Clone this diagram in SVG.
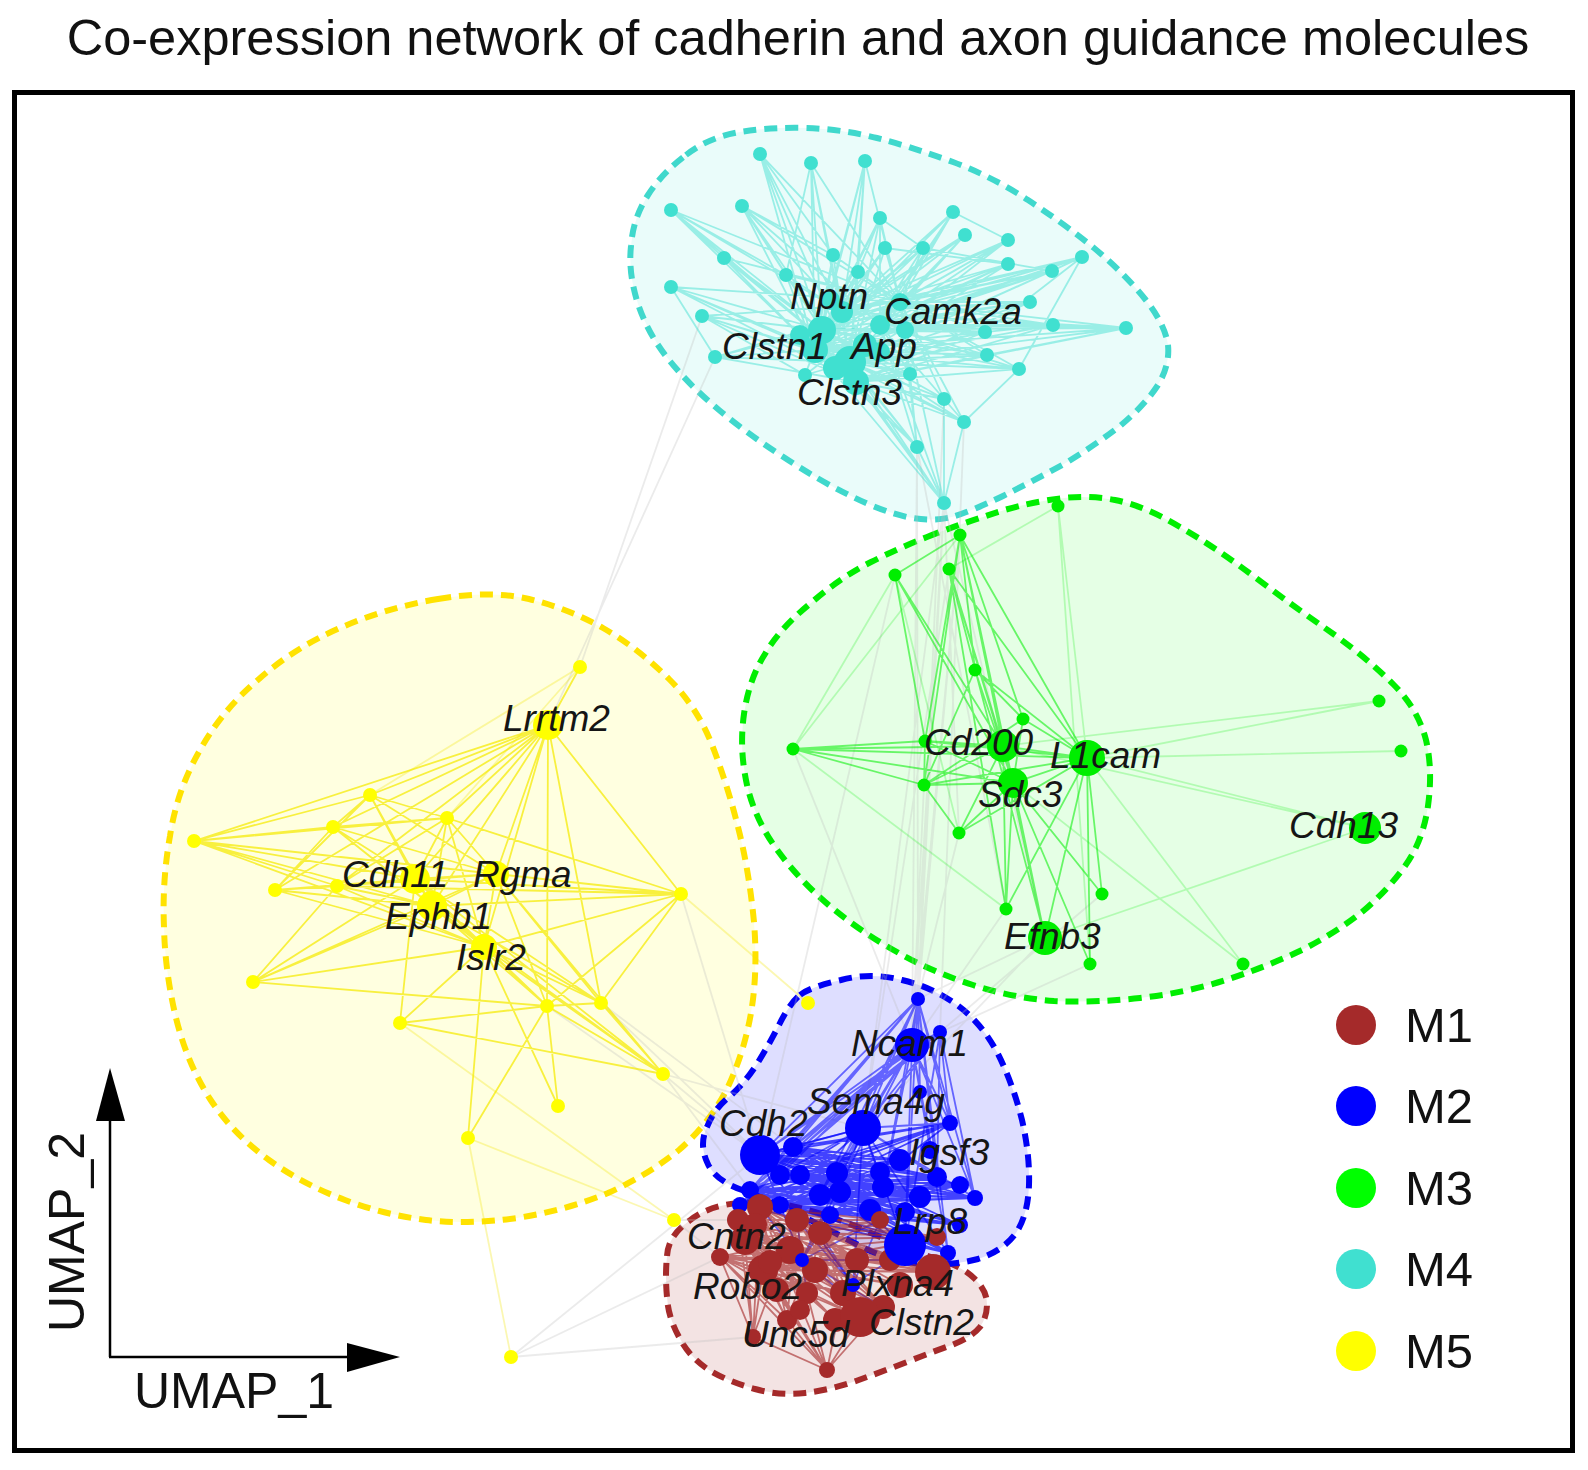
<svg xmlns="http://www.w3.org/2000/svg" width="1588" height="1470" viewBox="0 0 1588 1470">
<style>
.t{font-family:"Liberation Sans",Arial,sans-serif;fill:#111}
.lab{font-family:"Liberation Sans",Arial,sans-serif;font-style:italic;font-size:37px;fill:#151515}
.h{stroke-width:6;stroke-dasharray:13 8}
.e{fill:none;stroke-width:1.8;stroke-linecap:round}
.m1{fill:#A52A2A}.m2{fill:#0000FF}.m3{fill:#00EE00}.m4{fill:#40E0D0}.m5{fill:#FFFF00}
</style>
<rect width="1588" height="1470" fill="#fff"/>
<text class="t" x="798" y="55" font-size="50.5" text-anchor="middle">Co-expression network of cadherin and axon guidance molecules</text>
<rect x="14.5" y="92.5" width="1558" height="1358" fill="none" stroke="#000" stroke-width="5"/>

<g id="modules">
<path id="hull-M5" class="h" fill="#FFFF00" fill-opacity="0.12" stroke="#FFE200" d="M438 599 Q491 590 529 599 Q567 608 603 628 Q638 648 669 679 Q699 709 714 750 Q729 790 739 831 Q749 871 754 922 Q758 972 751 1013 Q744 1053 727 1089 Q709 1124 679 1150 Q648 1175 608 1193 Q567 1210 517 1218 Q466 1225 426 1220 Q385 1215 345 1200 Q304 1185 269 1160 Q233 1134 210 1099 Q187 1063 176 1018 Q165 972 164 927 Q162 881 170 836 Q177 790 200 750 Q223 709 259 679 Q294 648 340 628 Q385 608 438 599 Z"/>
<path id="hull-M4" class="h" fill="#40E0D0" fill-opacity="0.11" stroke="#40D8CC" d="M686 155 Q709 137 740 132 Q770 127 806 128 Q841 129 877 138 Q912 147 953 162 Q993 177 1028 200 Q1063 223 1094 248 Q1124 273 1145 299 Q1165 324 1168 345 Q1170 365 1158 385 Q1145 405 1120 426 Q1094 446 1064 464 Q1033 481 1003 496 Q972 511 952 517 Q932 522 907 517 Q881 511 851 496 Q820 481 785 458 Q749 435 719 410 Q689 385 669 360 Q648 334 638 304 Q628 273 631 246 Q633 218 648 195 Q663 172 686 155 Z"/>
<path id="hull-M3" class="h" fill="#00FF00" fill-opacity="0.1" stroke="#00EE00" d="M927 537 Q952 527 983 517 Q1013 506 1049 500 Q1084 494 1115 500 Q1145 506 1180 527 Q1215 547 1256 578 Q1296 608 1332 633 Q1367 658 1393 684 Q1418 709 1426 740 Q1433 770 1428 806 Q1423 841 1405 866 Q1387 891 1362 912 Q1337 932 1302 950 Q1266 967 1226 980 Q1185 993 1140 998 Q1094 1003 1054 1001 Q1013 998 973 985 Q932 972 897 952 Q861 932 831 907 Q800 881 778 851 Q755 820 747 785 Q739 749 744 714 Q749 679 765 654 Q780 628 811 603 Q841 577 871 562 Q901 547 927 537 Z"/>
<path id="hull-M1" class="h" fill="#A52A2A" fill-opacity="0.13" stroke="#A52A2A" d="M667 1256 Q668 1236 689 1221 Q709 1205 740 1203 Q770 1200 800 1208 Q830 1215 871 1233 Q912 1251 937 1259 Q962 1266 975 1279 Q987 1291 987 1304 Q987 1317 980 1327 Q972 1337 952 1345 Q932 1352 907 1362 Q881 1372 856 1381 Q830 1390 805 1393 Q780 1396 755 1389 Q729 1382 709 1370 Q689 1357 679 1337 Q668 1317 667 1297 Q665 1276 667 1256 Z"/>
<path id="hull-M2" class="h" fill="#0000FF" fill-opacity="0.13" stroke="#0000F5" d="M800 995 Q810 987 841 980 Q871 972 902 980 Q932 987 957 1005 Q982 1023 998 1054 Q1013 1084 1022 1120 Q1030 1155 1029 1185 Q1028 1215 1016 1233 Q1003 1251 978 1259 Q952 1266 922 1264 Q891 1261 866 1249 Q841 1236 806 1218 Q770 1200 742 1190 Q714 1180 707 1162 Q699 1144 707 1127 Q714 1109 729 1097 Q744 1084 757 1064 Q770 1043 780 1023 Q790 1003 800 995 Z"/>
</g>

<g id="connectors">
<path id="edges-between" class="e" stroke="#BDBDBD" stroke-opacity="0.3" stroke-width="1.3" d="M944 503L912 1045M944 503L918 999M944 503L863 1128M917 447L918 999M917 447L912 1045M964 422L940 1032M944 399L918 999M960 535L918 999M960 535L912 1045M895 575L760 1155M949 569L863 1128M663 1074L760 1155M663 1074L863 1128M663 1074L750 1190M601 1003L760 1155M601 1003L793 1147M547 1006L760 1155M681 894L760 1155M674 1220L738 1220M674 1220L720 1257M511 1357L720 1257M511 1357L753 1337M511 1357L760 1155M548 725L715 357M580 667L702 316M1006 909L912 1045M1045 938L918 999M1090 964L912 1045M1045 938L863 1128M959 833L918 999M924 785L912 1045M793 749L912 1045M1102 894L940 1032M944 503L1045 938M917 447L1006 909M944 503L959 833"/>
<path id="edges-M4" class="e" stroke="#40E0D0" stroke-opacity="0.48" d="M822 330L760 154M822 330L811 163M822 330L865 161M822 330L671 210M822 330L742 206M822 330L880 218M822 330L953 212M822 330L965 235M822 330L1008 240M822 330L1082 257M822 330L1008 264M822 330L1052 271M822 330L1030 302M822 330L1053 325M822 330L1126 328M822 330L724 258M822 330L671 287M822 330L702 316M822 330L715 357M822 330L833 255M822 330L885 248M822 330L923 248M822 330L786 275M822 330L858 272M822 330L985 332M822 330L987 355M822 330L1019 369M822 330L805 375M822 330L910 374M822 330L944 399M822 330L964 422M822 330L917 447M822 330L944 503
M850 362L760 154M850 362L811 163M850 362L865 161M850 362L671 210M850 362L742 206M850 362L880 218M850 362L953 212M850 362L965 235M850 362L1008 240M850 362L1082 257M850 362L1008 264M850 362L1052 271M850 362L1030 302M850 362L1053 325M850 362L1126 328M850 362L724 258M850 362L671 287M850 362L702 316M850 362L715 357M850 362L833 255M850 362L885 248M850 362L923 248M850 362L786 275M850 362L858 272M850 362L985 332M850 362L987 355M850 362L1019 369M850 362L805 375M850 362L910 374M850 362L944 399M850 362L964 422M850 362L917 447M850 362L944 503
M900 302L760 154M900 302L811 163M900 302L865 161M900 302L671 210M900 302L742 206M900 302L880 218M900 302L953 212M900 302L965 235M900 302L1008 240M900 302L1082 257M900 302L1008 264M900 302L1052 271M900 302L1030 302M900 302L1053 325M900 302L1126 328M900 302L724 258M900 302L671 287M900 302L702 316M900 302L715 357M900 302L833 255M900 302L885 248M900 302L923 248M900 302L786 275M900 302L858 272M900 302L985 332M900 302L987 355M900 302L1019 369M900 302L805 375M900 302L910 374M900 302L944 399M900 302L964 422M900 302L917 447M900 302L944 503
M815 350L760 154M815 350L811 163M815 350L865 161M815 350L671 210M815 350L742 206M815 350L880 218M815 350L953 212M815 350L965 235M815 350L1008 240M815 350L1082 257M815 350L1008 264M815 350L1052 271M815 350L1030 302M815 350L1053 325M815 350L1126 328M815 350L724 258M815 350L671 287M815 350L702 316M815 350L715 357M815 350L833 255M815 350L885 248M815 350L923 248M815 350L786 275M815 350L858 272M815 350L985 332M815 350L987 355M815 350L1019 369M815 350L805 375M815 350L910 374M815 350L944 399M815 350L964 422M815 350L917 447M815 350L944 503
M842 312L760 154M842 312L811 163M842 312L865 161M842 312L671 210M842 312L742 206M842 312L880 218M842 312L953 212M842 312L965 235M842 312L1008 240M842 312L1082 257M842 312L1008 264M842 312L1052 271M842 312L1030 302M842 312L1053 325M842 312L1126 328M842 312L833 255M842 312L885 248M842 312L923 248M842 312L786 275M842 312L858 272
M880 325L880 218M880 325L953 212M880 325L965 235M880 325L1008 240M880 325L1082 257M880 325L1008 264M880 325L1052 271M880 325L1030 302M880 325L1053 325M880 325L1126 328M880 325L985 332M880 325L987 355M880 325L1019 369M880 325L910 374M880 325L944 399M880 325L964 422M880 325L917 447M880 325L944 503M880 325L742 206
M856 382L985 332M856 382L987 355M856 382L1019 369M856 382L910 374M856 382L944 399M856 382L964 422M856 382L917 447M856 382L944 503M856 382L1053 325M856 382L1126 328M856 382L1030 302M856 382L715 357M856 382L702 316M856 382L671 287
M671 210L724 258M742 206L833 255M760 154L833 255M811 163L786 275M865 161L858 272M953 212L1008 240M1082 257L1052 271M1126 328L1053 325M1126 328L987 355M671 287L715 357M702 316L805 375M910 374L917 447M964 422L944 503M944 399L944 503M917 447L944 503M1019 369L964 422M880 218L923 248M885 248L1008 264M923 248L1052 271M742 206L786 275M671 210L786 275M1082 257L985 332M1082 257L1019 369"/>
<path id="edges-M3-weak" class="e" stroke="#00EE00" stroke-opacity="0.22" d="M1058 506L1090 964M1058 506L1087 758M1379 701L1087 758M1401 751L1087 758M1365 828L1087 758M1365 828L1045 938M1365 828L1003 746M1243 964L1087 758M1243 964L1013 783M793 749L960 535M793 749L1006 909M895 575L793 749M1058 506L949 569M895 575L959 833M1379 701L1003 746"/>
<path id="edges-M3" class="e" stroke="#00EE00" stroke-opacity="0.55" d="M960 535L1003 746M960 535L1087 758M960 535L1013 783M960 535L924 785M960 535L925 741M960 535L895 575M960 535L975 670M960 535L1023 719M949 569L1087 758M949 569L1013 783M949 569L1003 746M949 569L1045 938M949 569L1006 909M895 575L1013 783M895 575L1003 746M895 575L925 741M975 670L1087 758M975 670L1013 783M975 670L924 785M975 670L1023 719M1023 719L1087 758M1023 719L1013 783M1023 719L924 785M793 749L1003 746M793 749L1013 783M793 749L924 785M793 749L925 741M793 749L1087 758M925 741L1003 746M925 741L1087 758M925 741L1013 783M925 741L924 785M924 785L1003 746M924 785L1087 758M924 785L1013 783M924 785L959 833M959 833L1013 783M959 833L1003 746M959 833L1087 758M1003 746L1087 758M1003 746L1013 783M1087 758L1013 783M1006 909L1013 783M1006 909L1087 758M1006 909L1003 746M1045 938L1013 783M1045 938L1087 758M1045 938L1003 746M1102 894L1087 758M1102 894L1013 783M1090 964L1087 758M1090 964L1013 783"/>
<path id="edges-M5-weak" class="e" stroke="#F2E600" stroke-opacity="0.3" d="M511 1357L468 1138M580 667L447 818M580 667L370 795M808 1003L681 894M400 1023L674 1220M468 1138L674 1220"/>
<path id="edges-M5" class="e" stroke="#F5EA00" stroke-opacity="0.72" d="M548 725L580 667M548 725L370 795M548 725L333 827M548 725L447 818M548 725L194 841M548 725L275 890M548 725L337 886M548 725L415 879M548 725L496 874M548 725L432 906M548 725L484 947M548 725L681 894M548 725L547 1006M548 725L601 1003M194 841L333 827M194 841L370 795M194 841L447 818M194 841L415 879M194 841L496 874M194 841L432 906M194 841L484 947M194 841L337 886M194 841L681 894M370 795L333 827M370 795L447 818M370 795L415 879M370 795L496 874M370 795L432 906M370 795L275 890M333 827L415 879M333 827L432 906M333 827L496 874M333 827L484 947M333 827L447 818M333 827L275 890M447 818L415 879M447 818L432 906M447 818L496 874M447 818L484 947M447 818L337 886M415 879L496 874M415 879L432 906M415 879L484 947M496 874L432 906M496 874L484 947M432 906L484 947M681 894L415 879M681 894L496 874M681 894L432 906M681 894L484 947M681 894L547 1006M681 894L601 1003M681 894L447 818M681 894L337 886M547 1006L415 879M547 1006L496 874M547 1006L432 906M547 1006L484 947M547 1006L601 1003M547 1006L400 1023M547 1006L663 1074M547 1006L558 1106M547 1006L468 1138M547 1006L253 982M601 1003L415 879M601 1003L496 874M601 1003L432 906M601 1003L484 947M601 1003L663 1074M663 1074L415 879M663 1074L432 906M663 1074L484 947M663 1074L496 874M253 982L415 879M253 982L432 906M253 982L484 947M253 982L496 874M253 982L337 886M275 890L415 879M275 890L496 874M275 890L432 906M275 890L484 947M275 890L337 886M337 886L415 879M337 886L496 874M337 886L432 906M337 886L484 947M400 1023L484 947M400 1023L663 1074M400 1023L415 879M558 1106L484 947M468 1138L484 947"/>
<path id="edges-M2" class="e" stroke="#0000FF" stroke-opacity="0.55" stroke-width="2" d="M918 999L912 1045M918 999L863 1128M918 999L760 1155M918 999L920 1092M918 999L950 1123M918 999L937 1177M918 999L883 1187M918 999L837 1173M918 999L793 1147M918 999L905 1245M918 999L975 1198M918 999L750 1190M918 999L948 1253M940 1032L912 1045M940 1032L863 1128M940 1032L760 1155M940 1032L937 1177M940 1032L905 1245M940 1032L950 1123M940 1032L837 1173M940 1032L975 1198M940 1032L793 1147M912 1045L863 1128M912 1045L760 1155M912 1045L920 1092M912 1045L950 1123M912 1045L937 1177M912 1045L883 1187M912 1045L837 1173M912 1045L905 1245M912 1045L793 1147M912 1045L750 1190M912 1045L975 1198M912 1045L802 1260M912 1045L948 1253M863 1128L760 1155M863 1128L950 1123M863 1128L975 1198M863 1128L937 1177M863 1128L883 1187M863 1128L837 1173M863 1128L793 1147M863 1128L750 1190M863 1128L905 1245M863 1128L948 1253M863 1128L802 1260M863 1128L853 1285M912 1045L740 1205M912 1045L820 1195M912 1045L780 1175M918 999L740 1205M918 999L820 1195M940 1032L750 1190M940 1032L740 1205
M802 1260L820 1233M802 1260L857 1260M802 1260L843 1293M802 1260L807 1293M802 1260L880 1220M802 1260L797 1220M802 1260L890 1260M802 1260L883 1307M802 1260L760 1207M853 1285L857 1260M853 1285L880 1220M853 1285L820 1233M853 1285L890 1260M853 1285L797 1220"/>
<path id="edges-M2-core" class="e" stroke="#0000FF" stroke-opacity="0.7" stroke-width="2.6" d="M760 1155L937 1177M760 1155L975 1198M760 1155L960 1225M760 1155L948 1253M760 1155L950 1123M760 1155L960 1185M760 1155L920 1197M760 1155L905 1212M760 1155L900 1160M793 1147L937 1177M793 1147L975 1198M793 1147L960 1225M793 1147L948 1253M793 1147L950 1123M793 1147L960 1185M793 1147L920 1197M793 1147L905 1212M793 1147L900 1160M780 1175L937 1177M780 1175L975 1198M780 1175L960 1225M780 1175L948 1253M780 1175L950 1123M780 1175L960 1185M780 1175L920 1197M780 1175L905 1212M780 1175L900 1160M750 1190L937 1177M750 1190L975 1198M750 1190L960 1225M750 1190L948 1253M750 1190L950 1123M750 1190L960 1185M750 1190L920 1197M750 1190L905 1212M750 1190L900 1160M740 1205L937 1177M740 1205L975 1198M740 1205L960 1225M740 1205L948 1253M740 1205L950 1123M740 1205L960 1185M740 1205L920 1197M740 1205L905 1212M740 1205L900 1160M800 1175L937 1177M800 1175L975 1198M800 1175L960 1225M800 1175L948 1253M800 1175L950 1123M800 1175L960 1185M800 1175L920 1197M800 1175L905 1212M800 1175L900 1160M780 1205L937 1177M780 1205L975 1198M780 1205L960 1225M780 1205L948 1253M780 1205L950 1123M780 1205L960 1185M780 1205L920 1197M780 1205L905 1212M780 1205L900 1160M863 1128L740 1205M863 1128L780 1205M863 1128L905 1245M863 1128L830 1215M760 1155L905 1245M750 1190L905 1245M793 1147L905 1245M760 1155L863 1128M760 1155L802 1260M760 1155L853 1285M840 1192L975 1198M840 1192L948 1253M830 1215L960 1185M830 1215L950 1123M880 1172L740 1205M880 1172L780 1205"/>
<path id="edges-M1" class="e" stroke="#A52A2A" stroke-opacity="0.62" stroke-width="2.4" d="M760 1207L787 1320M760 1207L880 1220M760 1207L890 1260M760 1207L933 1272M760 1207L860 1317M760 1207L883 1307M760 1207L843 1293M760 1207L807 1293M760 1207L857 1260M760 1207L937 1237M760 1207L777 1290M738 1220L787 1320M738 1220L880 1220M738 1220L890 1260M738 1220L933 1272M738 1220L860 1317M738 1220L883 1307M738 1220L843 1293M738 1220L807 1293M738 1220L857 1260M738 1220L937 1237M738 1220L777 1290M720 1257L787 1320M720 1257L880 1220M720 1257L890 1260M720 1257L933 1272M720 1257L860 1317M720 1257L883 1307M720 1257L843 1293M720 1257L807 1293M720 1257L857 1260M720 1257L937 1237M720 1257L777 1290M763 1270L787 1320M763 1270L880 1220M763 1270L890 1260M763 1270L933 1272M763 1270L860 1317M763 1270L883 1307M763 1270L843 1293M763 1270L807 1293M763 1270L857 1260M763 1270L937 1237M763 1270L777 1290M797 1220L787 1320M797 1220L880 1220M797 1220L890 1260M797 1220L933 1272M797 1220L860 1317M797 1220L883 1307M797 1220L843 1293M797 1220L807 1293M797 1220L857 1260M797 1220L937 1237M797 1220L777 1290M820 1233L787 1320M820 1233L880 1220M820 1233L890 1260M820 1233L933 1272M820 1233L860 1317M820 1233L883 1307M820 1233L843 1293M820 1233L807 1293M820 1233L857 1260M820 1233L937 1237M820 1233L777 1290M745 1240L787 1320M745 1240L880 1220M745 1240L890 1260M745 1240L933 1272M745 1240L860 1317M745 1240L883 1307M745 1240L843 1293M745 1240L807 1293M745 1240L857 1260M745 1240L937 1237M745 1240L777 1290M827 1370L720 1257M827 1370L763 1270M827 1370L787 1320M827 1370L807 1293M827 1370L777 1290M827 1370L843 1293M827 1370L860 1317M827 1370L883 1307M827 1370L753 1337M827 1370L738 1220M827 1370L760 1207M827 1370L745 1240M753 1337L738 1220M753 1337L720 1257M753 1337L760 1207M753 1337L763 1270M753 1337L797 1220M753 1337L745 1240M790 1250L900 1285M790 1250L933 1272M815 1270L933 1272M815 1270L900 1285M835 1320L745 1240M835 1320L738 1220M900 1285L720 1257M900 1285L760 1207"/>
</g>

<g id="node-M4-others" class="m4">
<circle cx="760" cy="154" r="7"/><circle cx="811" cy="163" r="7"/><circle cx="865" cy="161" r="7"/><circle cx="671" cy="210" r="7"/><circle cx="742" cy="206" r="7"/><circle cx="880" cy="218" r="7"/><circle cx="953" cy="212" r="7"/><circle cx="965" cy="235" r="7"/><circle cx="1008" cy="240" r="7"/><circle cx="1082" cy="257" r="7"/><circle cx="1008" cy="264" r="7"/><circle cx="1052" cy="271" r="7"/><circle cx="1030" cy="302" r="7"/><circle cx="1053" cy="325" r="7"/><circle cx="1126" cy="328" r="7"/><circle cx="724" cy="258" r="7"/><circle cx="671" cy="287" r="7"/><circle cx="702" cy="316" r="7"/><circle cx="715" cy="357" r="7"/><circle cx="833" cy="255" r="7"/><circle cx="885" cy="248" r="7"/><circle cx="923" cy="248" r="7"/><circle cx="786" cy="275" r="7"/><circle cx="858" cy="272" r="7"/><circle cx="985" cy="332" r="7"/><circle cx="987" cy="355" r="7"/><circle cx="1019" cy="369" r="7"/><circle cx="805" cy="375" r="7"/><circle cx="910" cy="374" r="7"/><circle cx="944" cy="399" r="7"/><circle cx="964" cy="422" r="7"/><circle cx="917" cy="447" r="7"/><circle cx="944" cy="503" r="7"/><circle cx="842" cy="312" r="11"/><circle cx="880" cy="325" r="10"/><circle cx="830" cy="300" r="10"/><circle cx="865" cy="345" r="12"/><circle cx="835" cy="368" r="12"/><circle cx="800" cy="335" r="10"/><circle cx="880" cy="352" r="10"/><circle cx="905" cy="330" r="9"/>
</g>
<g id="node-M3-others" class="m3">
<circle cx="960" cy="535" r="6.5"/><circle cx="1058" cy="506" r="6.5"/><circle cx="895" cy="575" r="6.5"/><circle cx="949" cy="569" r="6.5"/><circle cx="975" cy="670" r="6.5"/><circle cx="1023" cy="719" r="6.5"/><circle cx="793" cy="749" r="6.5"/><circle cx="925" cy="741" r="6.5"/><circle cx="924" cy="785" r="6.5"/><circle cx="959" cy="833" r="6.5"/><circle cx="1006" cy="909" r="6.5"/><circle cx="1102" cy="894" r="6.5"/><circle cx="1090" cy="964" r="6.5"/><circle cx="1243" cy="964" r="6.5"/><circle cx="1379" cy="701" r="6.5"/><circle cx="1401" cy="751" r="6.5"/>
</g>
<g id="node-M5-others" class="m5">
<circle cx="580" cy="667" r="7"/><circle cx="370" cy="795" r="7"/><circle cx="333" cy="827" r="7"/><circle cx="447" cy="818" r="7"/><circle cx="194" cy="841" r="7"/><circle cx="275" cy="890" r="7"/><circle cx="337" cy="886" r="7"/><circle cx="681" cy="894" r="7"/><circle cx="253" cy="982" r="7"/><circle cx="547" cy="1006" r="7"/><circle cx="601" cy="1003" r="7"/><circle cx="400" cy="1023" r="7"/><circle cx="663" cy="1074" r="7"/><circle cx="558" cy="1106" r="7"/><circle cx="468" cy="1138" r="7"/><circle cx="808" cy="1003" r="7"/><circle cx="674" cy="1220" r="7"/><circle cx="511" cy="1357" r="7"/>
</g>
<g id="node-M2-others" class="m2">
<circle cx="918" cy="999" r="7"/><circle cx="940" cy="1032" r="7"/><circle cx="920" cy="1092" r="7"/><circle cx="950" cy="1123" r="8"/><circle cx="975" cy="1198" r="8"/><circle cx="937" cy="1177" r="10"/><circle cx="883" cy="1187" r="11"/><circle cx="793" cy="1147" r="10"/><circle cx="750" cy="1190" r="9"/><circle cx="837" cy="1173" r="11"/><circle cx="948" cy="1253" r="8"/><circle cx="820" cy="1195" r="11"/><circle cx="900" cy="1160" r="11"/><circle cx="780" cy="1175" r="10"/><circle cx="870" cy="1210" r="11"/><circle cx="960" cy="1225" r="8"/><circle cx="740" cy="1205" r="8"/><circle cx="800" cy="1175" r="10"/><circle cx="840" cy="1192" r="11"/><circle cx="880" cy="1172" r="10"/><circle cx="920" cy="1197" r="11"/><circle cx="960" cy="1185" r="9"/><circle cx="780" cy="1205" r="9"/><circle cx="830" cy="1215" r="9"/><circle cx="905" cy="1212" r="10"/>
</g>
<g id="node-M1-others" class="m1">
<circle cx="760" cy="1207" r="13"/><circle cx="738" cy="1220" r="11"/><circle cx="720" cy="1257" r="9"/><circle cx="763" cy="1270" r="15"/><circle cx="787" cy="1320" r="10"/><circle cx="827" cy="1370" r="8"/><circle cx="880" cy="1220" r="9"/><circle cx="890" cy="1260" r="11"/><circle cx="883" cy="1307" r="12"/><circle cx="843" cy="1293" r="13"/><circle cx="807" cy="1293" r="11"/><circle cx="820" cy="1233" r="12"/><circle cx="797" cy="1220" r="12"/><circle cx="857" cy="1260" r="12"/><circle cx="937" cy="1237" r="9"/><circle cx="753" cy="1337" r="8"/><circle cx="777" cy="1290" r="12"/><circle cx="745" cy="1240" r="15"/><circle cx="790" cy="1250" r="14"/><circle cx="815" cy="1270" r="13"/><circle cx="900" cy="1285" r="13"/><circle cx="835" cy="1320" r="12"/>
</g>
<g id="node-M2-small" class="m2"><circle cx="802" cy="1260" r="7"/><circle cx="853" cy="1285" r="7"/></g>

<g id="node-Nptn"><circle class="m4" cx="822" cy="330" r="14"/><text class="lab" x="790" y="309">Nptn</text></g>
<g id="node-Camk2a"><circle class="m4" cx="900" cy="302" r="9"/><text class="lab" x="884" y="324">Camk2a</text></g>
<g id="node-Clstn1"><circle class="m4" cx="815" cy="350" r="13"/><text class="lab" x="722" y="359">Clstn1</text></g>
<g id="node-App"><circle class="m4" cx="850" cy="362" r="16"/><text class="lab" x="851" y="359">App</text></g>
<g id="node-Clstn3"><circle class="m4" cx="856" cy="382" r="13"/><text class="lab" x="797" y="405">Clstn3</text></g>

<g id="node-Cd200"><circle class="m3" cx="1003" cy="746" r="16"/><text class="lab" x="924" y="755">Cd200</text></g>
<g id="node-Sdc3"><circle class="m3" cx="1013" cy="783" r="15"/><text class="lab" x="978" y="807">Sdc3</text></g>
<g id="node-L1cam"><circle class="m3" cx="1087" cy="758" r="18"/><text class="lab" x="1050" y="768">L1cam</text></g>
<g id="node-Cdh13"><circle class="m3" cx="1365" cy="828" r="16"/><text class="lab" x="1289" y="838">Cdh13</text></g>
<g id="node-Efnb3"><circle class="m3" cx="1045" cy="938" r="17"/><text class="lab" x="1004" y="949">Efnb3</text></g>

<g id="node-Lrrtm2"><circle class="m5" cx="548" cy="725" r="15"/><text class="lab" x="503" y="731">Lrrtm2</text></g>
<g id="node-Cdh11"><circle class="m5" cx="415" cy="879" r="15"/><text class="lab" x="342" y="887">Cdh11</text></g>
<g id="node-Rgma"><circle class="m5" cx="496" cy="874" r="13"/><text class="lab" x="473" y="887">Rgma</text></g>
<g id="node-Ephb1"><circle class="m5" cx="432" cy="906" r="15"/><text class="lab" x="385" y="929">Ephb1</text></g>
<g id="node-Islr2"><circle class="m5" cx="484" cy="947" r="13"/><text class="lab" x="456" y="970">Islr2</text></g>

<g id="node-Cdh2"><circle class="m2" cx="760" cy="1155" r="20"/><text class="lab" x="719" y="1136">Cdh2</text></g>
<g id="node-Sema4g"><circle class="m2" cx="863" cy="1128" r="18"/><text class="lab" x="807" y="1114">Sema4g</text></g>
<g id="node-Ncam1"><circle class="m2" cx="912" cy="1045" r="17"/><text class="lab" x="851" y="1056">Ncam1</text></g>
<g id="node-Igsf3"><circle class="m2" cx="930" cy="1150" r="9"/><text class="lab" x="909" y="1165">Igsf3</text></g>

<g id="node-Plxna4"><circle class="m1" cx="933" cy="1272" r="18"/><text class="lab" x="841" y="1296">Plxna4</text></g>
<g id="node-Clstn2"><circle class="m1" cx="860" cy="1317" r="20"/><text class="lab" x="869" y="1335">Clstn2</text></g>
<g id="node-Lrp8"><circle class="m2" cx="905" cy="1245" r="21"/><text class="lab" x="893" y="1234">Lrp8</text></g>
<g id="node-Cntn2"><circle class="m1" cx="755" cy="1225" r="12"/><text class="lab" x="687" y="1249">Cntn2</text></g>
<g id="node-Robo2"><circle class="m1" cx="770" cy="1262" r="12"/><text class="lab" x="693" y="1299">Robo2</text></g>
<g id="node-Unc5d"><circle class="m1" cx="800" cy="1310" r="10"/><text class="lab" x="742" y="1347">Unc5d</text></g>

<g id="axes">
<line x1="110" y1="1357" x2="110" y2="1118" stroke="#000" stroke-width="2.5"/>
<polygon points="110,1068 96,1121 125,1121" fill="#000"/>
<line x1="109" y1="1357" x2="350" y2="1357" stroke="#000" stroke-width="2.5"/>
<polygon points="400,1357 347,1343 347,1372" fill="#000"/>
<text class="t" x="234" y="1408" font-size="50" text-anchor="middle">UMAP_1</text>
<text class="t" transform="translate(84,1232) rotate(-90)" font-size="50" text-anchor="middle">UMAP_2</text>
</g>

<g id="legend">
<circle cx="1356" cy="1025" r="20" fill="#A52A2A"/><text class="t" x="1405" y="1042" font-size="49">M1</text>
<circle cx="1356" cy="1106" r="20" fill="#0000FF"/><text class="t" x="1405" y="1123" font-size="49">M2</text>
<circle cx="1356" cy="1188" r="20" fill="#00FF00"/><text class="t" x="1405" y="1205" font-size="49">M3</text>
<circle cx="1356" cy="1269" r="20" fill="#40E0D0"/><text class="t" x="1405" y="1286" font-size="49">M4</text>
<circle cx="1356" cy="1351" r="20" fill="#FFFF00"/><text class="t" x="1405" y="1368" font-size="49">M5</text>
</g>
</svg>
